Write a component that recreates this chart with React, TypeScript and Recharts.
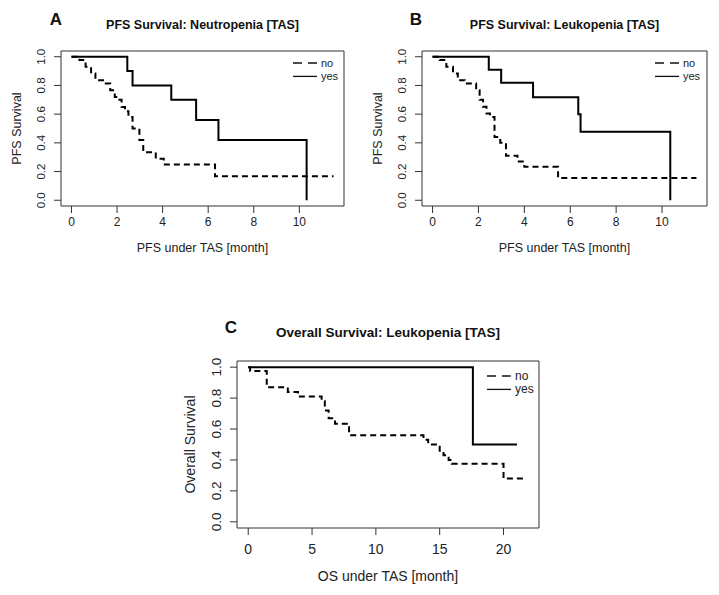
import React from "react";
import { LineChart, Line, XAxis, YAxis, ReferenceArea, Legend, Label } from "recharts";

const FONT = "'Liberation Sans', Arial, Helvetica, sans-serif";

// A: PFS by neutropenia
const aNoTime = [0, 0.35, 0.62, 0.86, 1.05, 1.45, 1.7, 1.9, 2.05, 2.2, 2.35, 2.5, 2.68, 2.98, 3.15, 3.7, 4.05, 6.3, 11.5];
const aNoSurv = [1, 0.977, 0.93, 0.884, 0.837, 0.814, 0.767, 0.72, 0.7, 0.65, 0.62, 0.58, 0.5, 0.42, 0.335, 0.29, 0.25, 0.167, 0.167];
const aYesTime = [0, 2.45, 2.68, 4.38, 5.47, 6.45, 10.32];
const aYesSurv = [1, 0.9, 0.8, 0.7, 0.56, 0.42, 0];

// B: PFS by leukopenia
const bNoTime = [0, 0.31, 0.6, 0.89, 1.1, 1.4, 1.9, 2.05, 2.2, 2.35, 2.5, 2.7, 2.95, 3.2, 3.7, 4.0, 5.47, 11.5];
const bNoSurv = [1, 0.977, 0.93, 0.884, 0.837, 0.814, 0.767, 0.7, 0.651, 0.605, 0.58, 0.44, 0.4, 0.31, 0.27, 0.233, 0.155, 0.155];
const bYesTime = [0, 2.45, 2.99, 4.38, 6.35, 6.45, 10.36];
const bYesSurv = [1, 0.909, 0.818, 0.718, 0.6, 0.478, 0];

// C: OS by leukopenia
const cNoTime = [0, 0.15, 1.45, 3.1, 3.9, 5.75, 6.0, 6.3, 6.8, 7.9, 13.73, 14.1, 15.0, 15.3, 15.7, 15.95, 20.0, 21.7];
const cNoSurv = [1, 0.975, 0.87, 0.84, 0.81, 0.78, 0.72, 0.67, 0.635, 0.56, 0.53, 0.5, 0.46, 0.43, 0.4, 0.375, 0.28, 0.28];
const cYesTime = [0, 17.6, 21.05];
const cYesSurv = [1, 0.5, 0.5];

const pfsTicks = [0, 2, 4, 6, 8, 10];
const osTicks = [0, 5, 10, 15, 20];
const survTicks = [0, 0.2, 0.4, 0.6, 0.8, 1.0];
const groups = ["no", "yes"];

const toPoints = (t: number[], s: number[]) => t.map((x, i) => ({ t: x, s: s[i] }));

type Cfg = {
  letter: string;
  title: string;
  xTitle: string;
  yTitle: string;
  left: number;
  top: number;
  width: number;
  height: number;
  plot: { l: number; t: number; r: number; b: number };
  xDomain: [number, number];
  xTicks: number[];
  no: { t: number; s: number }[];
  yes: { t: number; s: number }[];
  tickFs: number;
  yTickFs: number;
  titleFs: number;
  axisFs: number;
  legendFs: number;
  xTickOff: number;
  yTickOff: number;
  xTitleOff: number;
  yTitleOff: number;
  titleY: number;
  letterX: number;
  letterY: number;
  legendX: number;
  legendY: number;
};

const panels: Cfg[] = [
  {
    letter: "A",
    title: "PFS Survival: Neutropenia [TAS]",
    xTitle: "PFS under TAS [month]",
    yTitle: "PFS Survival",
    left: 0, top: 0, width: 360, height: 280,
    plot: { l: 61, t: 51, r: 344, b: 206 },
    xDomain: [-0.46, 11.96],
    xTicks: pfsTicks,
    no: toPoints(aNoTime, aNoSurv),
    yes: toPoints(aYesTime, aYesSurv),
    tickFs: 12, yTickFs: 11.5, titleFs: 12.5, axisFs: 12.5, legendFs: 11,
    xTickOff: 15.7, yTickOff: 19.5, xTitleOff: 42, yTitleOff: 44,
    titleY: 25, letterX: 56, letterY: 20, legendX: 293, legendY: 63,
  },
  {
    letter: "B",
    title: "PFS Survival: Leukopenia [TAS]",
    xTitle: "PFS under TAS [month]",
    yTitle: "PFS Survival",
    left: 360, top: 0, width: 359, height: 280,
    plot: { l: 62, t: 51, r: 347, b: 206 },
    xDomain: [-0.46, 11.96],
    xTicks: pfsTicks,
    no: toPoints(bNoTime, bNoSurv),
    yes: toPoints(bYesTime, bYesSurv),
    tickFs: 12, yTickFs: 11.5, titleFs: 12.5, axisFs: 12.5, legendFs: 11,
    xTickOff: 15.7, yTickOff: 19.5, xTitleOff: 42, yTitleOff: 44,
    titleY: 25, letterX: 56, letterY: 20, legendX: 295, legendY: 63,
  },
  {
    letter: "C",
    title: "Overall Survival: Leukopenia [TAS]",
    xTitle: "OS under TAS [month]",
    yTitle: "Overall Survival",
    left: 170, top: 300, width: 400, height: 295,
    plot: { l: 67, t: 61, r: 369, b: 228 },
    xDomain: [-0.88, 22.78],
    xTicks: osTicks,
    no: toPoints(cNoTime, cNoSurv),
    yes: toPoints(cYesTime, cYesSurv),
    tickFs: 14, yTickFs: 13.5, titleFs: 13.5, axisFs: 14, legendFs: 12,
    xTickOff: 20.6, yTickOff: 20.3, xTitleOff: 48, yTitleOff: 47,
    titleY: 33, letterX: 61, letterY: 28, legendX: 317, legendY: 76,
  },
];

const Y_AXIS_W = 40;
const X_AXIS_H = 30;

function Panel({ cfg }: { cfg: Cfg }) {
  const { plot, width, height } = cfg;
  const midX = (plot.l + plot.r) / 2;
  const midY = (plot.t + plot.b) / 2;

  const xTick = (props: any) => {
    const { x, payload } = props;
    return (
      <text x={x} y={plot.b + cfg.xTickOff} textAnchor="middle" dominantBaseline="central"
        fontSize={cfg.tickFs} fill="#222" fontFamily={FONT}>
        {payload.value}
      </text>
    );
  };

  const yTick = (props: any) => {
    const { y, payload } = props;
    const cx = plot.l - cfg.yTickOff;
    return (
      <text x={cx} y={y} transform={`rotate(-90 ${cx} ${y})`} textAnchor="middle" dominantBaseline="central"
        fontSize={cfg.yTickFs} fill="#222" fontFamily={FONT}>
        {Number(payload.value).toFixed(1)}
      </text>
    );
  };

  const legend = () => (
    <svg width={60} height={30} style={{ display: "block" }}>
      {groups.map((g, i) => (
        <g key={g}>
          <line x1={0} x2={24} y1={6 + i * 13.4} y2={6 + i * 13.4} stroke="#111" strokeWidth={1.3}
            strokeDasharray={g === "no" ? "9 6" : undefined} />
          <text x={28} y={6 + i * 13.4} dominantBaseline="central" fontSize={cfg.legendFs} fill="#222" fontFamily={FONT}>
            {g}
          </text>
        </g>
      ))}
    </svg>
  );

  return (
    <div style={{ position: "absolute", left: cfg.left, top: cfg.top, width, height }}>
      <div style={{
        position: "absolute", left: cfg.letterX - 20, top: cfg.letterY - 10, width: 40, height: 20, lineHeight: "20px",
        textAlign: "center", fontFamily: FONT, fontWeight: "bold", fontSize: 17, color: "#111",
      }}>{cfg.letter}</div>
      <div style={{
        position: "absolute", left: midX - 200, top: cfg.titleY - 9, width: 400, height: 18, lineHeight: "18px",
        textAlign: "center", fontFamily: FONT, fontWeight: "bold", fontSize: cfg.titleFs, color: "#111",
      }}>{cfg.title}</div>
      <LineChart
        width={width}
        height={height}
        margin={{
          top: plot.t,
          right: width - plot.r,
          bottom: height - plot.b - X_AXIS_H,
          left: plot.l - Y_AXIS_W,
        }}
      >
        <XAxis
          dataKey="t"
          type="number"
          domain={cfg.xDomain}
          allowDataOverflow
          ticks={cfg.xTicks}
          height={X_AXIS_H}
          axisLine={false}
          tickLine={{ stroke: "#333" }}
          tickSize={7}
          tick={xTick}
          interval={0}
        >
          <Label
            content={() => (
              <text x={midX} y={plot.b + cfg.xTitleOff} textAnchor="middle" dominantBaseline="central"
                fontSize={cfg.axisFs} fill="#222" fontFamily={FONT}>
                {cfg.xTitle}
              </text>
            )}
          />
        </XAxis>
        <YAxis
          type="number"
          domain={[-0.04, 1.04]}
          allowDataOverflow
          ticks={survTicks}
          width={Y_AXIS_W}
          axisLine={false}
          tickLine={{ stroke: "#333" }}
          tickSize={7}
          tick={yTick}
          interval={0}
        >
          <Label
            content={() => {
              const lx = plot.l - cfg.yTitleOff;
              return (
                <text x={lx} y={midY} transform={`rotate(-90 ${lx} ${midY})`} textAnchor="middle"
                  dominantBaseline="central" fontSize={cfg.axisFs} fill="#222" fontFamily={FONT}>
                  {cfg.yTitle}
                </text>
              );
            }}
          />
        </YAxis>
        <ReferenceArea
          x1={cfg.xDomain[0]}
          x2={cfg.xDomain[1]}
          y1={-0.04}
          y2={1.04}
          fill="none"
          fillOpacity={0}
          stroke="#333"
          strokeWidth={1}
          ifOverflow="visible"
        />
        <Line
          data={cfg.no}
          dataKey="s"
          type="stepAfter"
          stroke="#000"
          strokeWidth={2}
          strokeDasharray="6 4"
          dot={false}
          activeDot={false}
          isAnimationActive={false}
        />
        <Line
          data={cfg.yes}
          dataKey="s"
          type="stepAfter"
          stroke="#000"
          strokeWidth={2}
          dot={false}
          activeDot={false}
          isAnimationActive={false}
        />
        <Legend
          layout="vertical"
          align="center"
          verticalAlign="middle"
          content={legend}
          wrapperStyle={{ left: cfg.legendX, top: cfg.legendY - 6, width: 60, height: 30 }}
        />
      </LineChart>
    </div>
  );
}

export default function App() {
  return (
    <div style={{ position: "absolute", left: 0, top: 0, width: 719, height: 595, background: "#fff" }}>
      {panels.map((p) => (
        <Panel key={p.letter} cfg={p} />
      ))}
    </div>
  );
}
